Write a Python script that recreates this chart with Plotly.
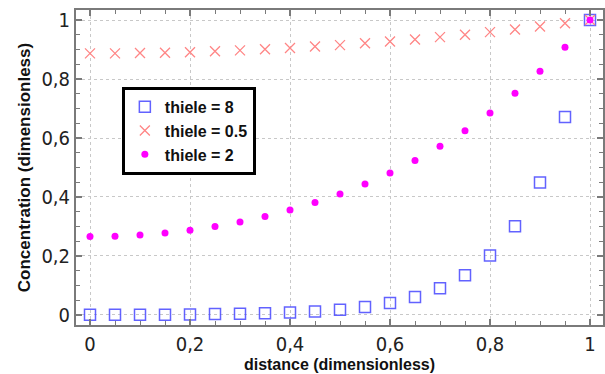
import plotly.graph_objects as go

distance = [0.0, 0.05, 0.1, 0.15, 0.2, 0.25, 0.3, 0.35, 0.4, 0.45, 0.5,
            0.55, 0.6, 0.65, 0.7, 0.75, 0.8, 0.85, 0.9, 0.95, 1.0]
thiele_8 = [0.001, 0.001, 0.001, 0.001, 0.002, 0.003, 0.004, 0.006, 0.008, 0.012, 0.018,
            0.027, 0.041, 0.061, 0.091, 0.135, 0.202, 0.301, 0.449, 0.671, 1.0]
thiele_05 = [0.887, 0.887, 0.888, 0.889, 0.891, 0.894, 0.897, 0.901, 0.905, 0.910, 0.915,
             0.921, 0.927, 0.934, 0.942, 0.950, 0.959, 0.968, 0.978, 0.989, 1.0]
thiele_2 = [0.266, 0.267, 0.271, 0.278, 0.287, 0.300, 0.315, 0.334, 0.356, 0.381, 0.410,
            0.444, 0.481, 0.524, 0.572, 0.625, 0.685, 0.752, 0.826, 0.908, 1.0]
series_names = ["thiele = 8", "thiele = 0.5", "thiele = 2"]
x_ticks = [0, 0.2, 0.4, 0.6, 0.8, 1]
y_ticks = [0, 0.2, 0.4, 0.6, 0.8, 1]

NARROW = "Liberation Sans Narrow, Arial Narrow, DejaVu Sans Condensed, sans-serif"
BOLD = "Liberation Sans, Arial, sans-serif"

fig = go.Figure()
fig.add_trace(go.Scatter(
    x=distance, y=thiele_8, mode="markers", name=series_names[0],
    marker=dict(symbol="square-open", size=11, color="rgba(70,70,255,0.85)",
                line=dict(width=1.5, color="rgba(70,70,255,0.85)"))))
fig.add_trace(go.Scatter(
    x=distance, y=thiele_05, mode="markers", name=series_names[1],
    marker=dict(symbol="x-thin-open", size=10, color="#ff8585",
                line=dict(width=1.3, color="#ff8585"))))
fig.add_trace(go.Scatter(
    x=distance, y=thiele_2, mode="markers", name=series_names[2],
    marker=dict(symbol="circle", size=7, color="#ff00ff")))

axis_common = dict(
    automargin=False,
    showline=True, linecolor="#7a7a7a", linewidth=2, mirror="ticks",
    ticks="inside", ticklen=6, tickwidth=1.5, tickcolor="#7a7a7a",
    showgrid=True, gridcolor="#c8c8c8", griddash="dot", gridwidth=1,
    zeroline=False,
    tickfont=dict(family=NARROW, size=20, color="#222222"),
    minor=dict(dtick=0.05, ticks="inside", ticklen=4, tickcolor="#7a7a7a",
               tickwidth=1, showgrid=False),
)

fig.update_xaxes(range=[-0.028, 1.026], tickvals=x_ticks,
                 title=dict(text="<b>distance (dimensionless)</b>",
                            font=dict(family=BOLD, size=16, color="#111111"),
                            standoff=1),
                 **axis_common)
fig.update_yaxes(range=[-0.034, 1.034], tickvals=y_ticks,
                 title=dict(text="<b>Concentration (dimensionless)</b>",
                            font=dict(family=BOLD, size=17, color="#111111"),
                            standoff=6),
                 **axis_common)

fig.update_layout(
    width=605, height=374,
    margin=dict(l=76, r=2, t=10, b=49),
    paper_bgcolor="white", plot_bgcolor="white",
    separators=",.",
    showlegend=True,
    legend=dict(x=0.087, y=0.756, xanchor="left", yanchor="top",
                bgcolor="white", bordercolor="black", borderwidth=3,
                font=dict(family=BOLD, size=16, color="#111111", weight="bold"),
                tracegroupgap=0, itemwidth=30),
)

fig.write_html("out.html", config={"displayModeBar": False},
               post_script="document.body.style.margin='0';document.body.style.padding='0';")
